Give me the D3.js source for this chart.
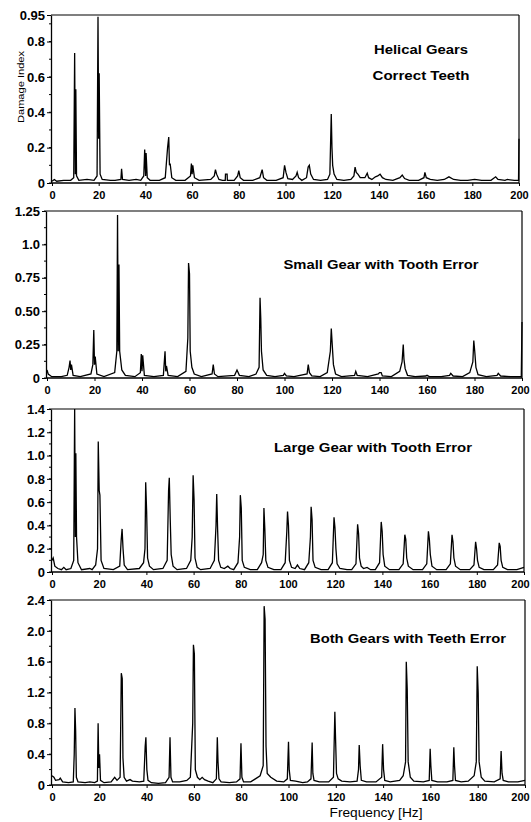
<!DOCTYPE html>
<html><head><meta charset="utf-8">
<script src="https://cdn.jsdelivr.net/npm/d3@7"></script>
<style>
body{margin:0;background:#fff}
svg{display:block}
text{font-family:"Liberation Sans",Arial,sans-serif;font-weight:bold;fill:#000}
</style>
</head><body><svg id="c" width="531" height="822"></svg>
<script>
// ---------------- DATA ----------------
const xTicks = [0,20,40,60,80,100,120,140,160,180,200];

const yTicks1 = [0,0.2,0.4,0.6,0.8,0.95];
const yLabels1 = ["0","0.2","0.4","0.6","0.8","0.95"];
const yTicks2 = [0,0.25,0.5,0.75,1.0,1.25];
const yLabels2 = ["0","0.25","0.50","0.75","1.0","1.25"];
const yTicks3 = [0,0.2,0.4,0.6,0.8,1.0,1.2,1.4];
const yLabels3 = ["0","0.2","0.4","0.6","0.8","1.0","1.2","1.4"];
const yTicks4 = [0,0.4,0.8,1.2,1.6,2.0,2.4];
const yLabels4 = ["0","0.4","0.8","1.2","1.6","2.0","2.4"];

const titles = [
  ["Helical Gears","Correct Teeth"],
  ["Small Gear with Tooth Error"],
  ["Large Gear with Tooth Error"],
  ["Both Gears with Teeth Error"]
];
const yAxisTitle = "Damage Index";
const xAxisTitle = "Frequency [Hz]";

// Helical gears, correct teeth: [frequency Hz, damage index]
const trace1 = [[0,0.01],[1,0.02],[2,0.01],[5,0.015],[8,0.015],[9.3,0.03],[9.7,0.735],[10,0.05],[10.2,0.53],[10.5,0.04],[11.5,0.015],
[15,0.02],[18,0.015],[19.3,0.04],[19.7,0.94],[20,0.25],[20.2,0.62],[20.6,0.05],[21.5,0.02],[25,0.015],[27,0.015],[29.5,0.02],[29.8,0.08],[30.2,0.02],
[33,0.015],[36,0.02],[38,0.015],[39.3,0.04],[39.7,0.19],[40.1,0.04],[40.3,0.17],[40.8,0.03],[42,0.015],[46,0.015],[48.5,0.03],[49.5,0.2],[50,0.26],[50.3,0.1],[50.6,0.11],[51.3,0.03],
[53,0.015],[57,0.015],[59.3,0.04],[59.7,0.11],[60,0.05],[60.3,0.1],[61,0.03],[63,0.015],[68,0.02],[69.5,0.04],[70,0.075],[70.5,0.05],[71.5,0.02],[73,0.015],
[74.2,0.015],[74.3,0.05],[75,0.05],[75.1,0.015],[78,0.015],[79.5,0.04],[80,0.07],[80.6,0.03],[82,0.015],[86,0.015],[89,0.03],[90,0.075],[90.6,0.03],[92,0.015],
[96,0.015],[99,0.03],[99.6,0.1],[100.2,0.06],[101,0.025],[103,0.02],[104.5,0.04],[105,0.06],[105.6,0.03],[107,0.015],[109,0.03],[109.7,0.09],[110.2,0.1],[110.8,0.05],[112,0.02],
[115,0.015],[118,0.02],[119,0.05],[119.6,0.39],[119.9,0.2],[120.2,0.1],[120.8,0.05],[122,0.02],[125,0.015],[128,0.02],[129.3,0.04],[129.8,0.09],[130.3,0.06],[131,0.05],[132,0.03],
[134,0.03],[135,0.055],[135.6,0.03],[137,0.02],[138.5,0.035],[139.5,0.04],[140.5,0.05],[141.5,0.03],[143,0.02],[146,0.015],[149,0.03],[150,0.045],[151,0.025],[153,0.015],
[157,0.015],[159.3,0.03],[159.7,0.06],[160.3,0.03],[162,0.02],[165,0.015],[168,0.02],[170,0.035],[172,0.02],[175,0.015],[178,0.015],[181,0.02],[184,0.015],[188,0.015],
[190,0.035],[191,0.02],[194,0.015],[195,0.02],[198,0.015],[199.8,0.015],[200,0.25]];

// Small gear with tooth error
const trace2 = [[0,0.06],[0.5,0.03],[2,0.01],[6,0.01],[8.5,0.02],[9.3,0.08],[9.7,0.13],[10,0.06],[10.3,0.1],[11,0.02],[14,0.01],
[18.5,0.03],[19.3,0.1],[19.7,0.36],[20,0.1],[20.3,0.16],[21,0.03],[24,0.01],[28.5,0.04],[29.4,0.2],[29.7,1.22],[30,0.2],[30.3,0.85],[30.6,0.2],[31.5,0.06],[33,0.02],
[37,0.01],[39.3,0.04],[39.7,0.18],[40,0.05],[40.3,0.17],[41,0.02],[45,0.01],[49,0.02],[49.7,0.2],[50,0.05],[50.3,0.09],[51,0.02],[55,0.01],
[58.5,0.05],[59.3,0.3],[59.6,0.86],[60,0.78],[60.3,0.2],[61,0.08],[62,0.03],[65,0.01],[69.5,0.03],[70,0.1],[70.5,0.03],[72,0.01],[79,0.02],[80,0.06],[81,0.02],[85,0.01],
[88,0.03],[89.3,0.08],[89.7,0.6],[90,0.45],[90.3,0.2],[91,0.06],[92.5,0.02],[96,0.01],[99.5,0.02],[100,0.035],[100.8,0.015],[104,0.01],[109.5,0.03],[110,0.1],[110.5,0.04],[111.5,0.015],
[115,0.01],[118,0.04],[119.3,0.2],[119.7,0.37],[120.1,0.25],[120.6,0.1],[121.5,0.03],[124,0.01],[129.5,0.02],[130,0.05],[130.6,0.02],[135,0.01],[139.5,0.03],[140,0.04],[140.7,0.04],[141.2,0.015],
[145,0.01],[148.5,0.05],[149.5,0.12],[150,0.25],[150.3,0.14],[150.8,0.07],[151.8,0.02],[155,0.01],[159.5,0.015],[160,0.02],[161,0.01],[166,0.01],[169.5,0.02],[170,0.035],[171,0.015],
[175,0.01],[178,0.04],[179.3,0.12],[179.7,0.28],[180.1,0.2],[180.6,0.08],[181.5,0.025],[185,0.01],[189.5,0.02],[190,0.035],[191,0.015],[195,0.01],[199.7,0.01],[200,0.42]];

// Large gear with tooth error
const trace3 = [[0,0.1],[0.5,0.12],[1.2,0.05],[2.5,0.03],[4,0.02],[5,0.04],[6,0.02],[8,0.03],[9.2,0.1],[9.6,1.4],[9.9,0.3],[10.1,1.02],[10.4,0.3],[11,0.08],[12.5,0.02],
[16,0.03],[17,0.02],[18.5,0.06],[19.3,0.2],[19.6,1.12],[20,0.7],[20.3,0.66],[20.8,0.1],[22,0.03],[26,0.02],[28.7,0.05],[29.3,0.27],[29.7,0.37],[30.1,0.2],[30.6,0.06],[32,0.02],
[37,0.03],[38.8,0.08],[39.4,0.2],[39.7,0.77],[40.1,0.52],[40.5,0.12],[41.3,0.05],[43,0.02],[47,0.03],[48.8,0.1],[49.4,0.7],[49.7,0.81],[50.1,0.45],[50.5,0.15],[51.3,0.05],[53,0.02],
[57,0.03],[58.8,0.1],[59.4,0.3],[59.8,0.83],[60.2,0.62],[60.6,0.12],[61.5,0.04],[63,0.02],[67,0.03],[68.8,0.1],[69.5,0.4],[69.8,0.67],[70.2,0.35],[70.6,0.1],[71.5,0.04],[73,0.03],
[74.5,0.05],[75.5,0.03],[77,0.02],[78.8,0.08],[79.5,0.3],[79.8,0.66],[80.2,0.55],[80.6,0.1],[81.5,0.04],[84,0.02],[87,0.02],[88.8,0.08],[89.5,0.15],[89.8,0.55],[90.2,0.36],[90.6,0.1],[91.5,0.04],[94,0.02],
[97,0.02],[98.8,0.08],[99.5,0.35],[99.8,0.52],[100.2,0.4],[100.6,0.1],[101.5,0.04],[103,0.03],[104,0.06],[105,0.03],[107,0.02],[108.8,0.08],[109.5,0.3],[109.8,0.56],[110.2,0.45],[110.6,0.1],[111.5,0.04],[114,0.02],
[117,0.02],[118.8,0.08],[119.5,0.47],[119.9,0.38],[120.3,0.2],[120.8,0.07],[122,0.03],[125,0.02],[127,0.02],[128.8,0.07],[129.5,0.41],[129.9,0.33],[130.3,0.12],[131,0.05],[132,0.03],[133.5,0.04],[135,0.02],
[137,0.02],[138.8,0.08],[139.5,0.43],[139.9,0.35],[140.3,0.15],[141,0.05],[143,0.02],[147,0.02],[148.8,0.07],[149.5,0.32],[149.9,0.28],[150.3,0.12],[151,0.05],[153,0.02],
[157,0.02],[158.8,0.07],[159.5,0.35],[159.9,0.28],[160.3,0.15],[161,0.05],[163,0.02],[167,0.02],[168.8,0.07],[169.5,0.32],[169.9,0.26],[170.3,0.12],[171,0.05],[173,0.02],
[177,0.02],[178.8,0.06],[179.5,0.26],[179.9,0.2],[180.3,0.1],[181,0.04],[183,0.02],[187,0.02],[188.8,0.06],[189.5,0.25],[189.9,0.22],[190.3,0.1],[191,0.04],[193,0.02],[197,0.02],[200,0.04]];

// Both gears with teeth error
const trace4 = [[0,0.12],[0.8,0.1],[1.5,0.06],[3,0.07],[3.5,0.09],[4.5,0.04],[7,0.03],[9,0.04],[9.4,0.4],[9.7,1.0],[10,0.7],[10.3,0.1],[11,0.04],[14,0.03],[16,0.04],[18,0.03],
[19.2,0.05],[19.5,0.8],[19.8,0.22],[20.1,0.4],[20.5,0.06],[22,0.03],[25,0.04],[26.5,0.1],[27.5,0.06],[28.8,0.1],[29.3,1.45],[29.7,1.38],[30,0.35],[30.5,0.1],[31.5,0.05],[33,0.07],[34,0.05],
[37,0.04],[38.8,0.05],[39.4,0.5],[39.7,0.62],[40.1,0.2],[40.6,0.06],[42,0.03],[45,0.02],[48,0.03],[49.5,0.1],[49.9,0.62],[50.3,0.1],[51,0.04],[54,0.04],[57,0.06],
[58.5,0.1],[59.5,0.8],[59.8,1.82],[60.2,1.7],[60.6,0.2],[61.5,0.1],[62.5,0.07],[63.5,0.1],[64.5,0.07],[66,0.05],[68,0.03],[69.5,0.08],[69.9,0.62],[70.2,0.3],[70.6,0.08],[71.5,0.04],
[75,0.03],[78,0.04],[79.5,0.08],[79.9,0.54],[80.3,0.1],[81,0.04],[84,0.04],[86,0.08],[88,0.12],[89.3,0.25],[89.7,2.32],[90.1,2.15],[90.5,0.5],[91,0.15],[92.5,0.1],[95,0.05],
[98,0.04],[99.5,0.08],[100,0.56],[100.3,0.2],[100.8,0.06],[103,0.05],[104.5,0.04],[106,0.03],[108,0.04],[109.5,0.08],[110,0.55],[110.3,0.15],[110.8,0.06],[113,0.04],
[117,0.04],[119,0.1],[119.6,0.95],[119.9,0.6],[120.3,0.15],[121,0.08],[122.5,0.05],[126,0.04],[129,0.05],[129.6,0.2],[129.9,0.52],[130.3,0.25],[130.8,0.06],[133,0.04],
[137,0.04],[139.4,0.1],[139.8,0.53],[140.2,0.2],[140.7,0.06],[143,0.04],[147,0.06],[148.5,0.12],[149.5,0.3],[149.8,1.6],[150.2,1.25],[150.6,0.3],[151.5,0.1],[153,0.05],
[157,0.04],[159.5,0.06],[159.9,0.47],[160.2,0.25],[160.6,0.06],[163,0.04],[167,0.04],[169.5,0.06],[169.9,0.49],[170.2,0.25],[170.6,0.06],[173,0.04],
[176,0.05],[178.5,0.12],[179.4,0.3],[179.8,1.54],[180.2,1.2],[180.6,0.3],[181.5,0.1],[183,0.05],[187,0.04],[189.5,0.08],[189.9,0.44],[190.3,0.15],[190.8,0.06],[193,0.04],[197,0.04],[200,0.06]];

// ---------------- LAYOUT ----------------
const panels = [
  {trace:trace1, max:0.95, yt:yTicks1, yl:yLabels1, minor:0.1, l:51, r:519, t:15,  b:183,
   title:titles[0], tx:421, ty:[54,80], tw:[94,97]},
  {trace:trace2, max:1.25, yt:yTicks2, yl:yLabels2, minor:0.125, l:46, r:522, t:211, b:378,
   title:titles[1], tx:381, ty:[269], tw:[195]},
  {trace:trace3, max:1.4, yt:yTicks3, yl:yLabels3, minor:0.1, l:51, r:524, t:409, b:572,
   title:titles[2], tx:373, ty:[452], tw:[198]},
  {trace:trace4, max:2.4, yt:yTicks4, yl:yLabels4, minor:0.2, l:51, r:525, t:600, b:785,
   title:titles[3], tx:408, ty:[643], tw:[196]}
];

const svg = d3.select("#c");

panels.forEach((p, i) => {
  const x = d3.scaleLinear().domain([0,200]).range([p.l+1, p.r]);
  const y = d3.scaleLinear().domain([0,p.max]).range([p.b, p.t]);
  const g = svg.append("g");

  // frame (top and right)
  g.append("line").attr("x1",p.l).attr("x2",p.r).attr("y1",p.t).attr("y2",p.t)
    .attr("stroke","#000").attr("stroke-width",1.2);
  g.append("line").attr("x1",p.r).attr("x2",p.r).attr("y1",p.t).attr("y2",p.b)
    .attr("stroke","#000").attr("stroke-width",1.2);

  // minor y ticks
  g.selectAll(".mn").data(d3.range(0, p.max + 1e-9, p.minor)).join("line")
    .attr("x1",p.l-2).attr("x2",p.l).attr("y1",d=>y(d)).attr("y2",d=>y(d))
    .attr("stroke","#000").attr("stroke-width",1);

  // y axis
  const ya = g.append("g").attr("transform",`translate(${p.l},0)`)
    .call(d3.axisLeft(y).tickValues(p.yt).tickFormat((d,k)=>p.yl[k]).tickSize(4).tickPadding(2).tickSizeOuter(0));
  ya.selectAll("text").style("font-size","13px").style("font-weight","bold")
    .style("font-family","'Liberation Sans',Arial,sans-serif");
  ya.select(".domain").attr("stroke-width",1.3);

  // x axis
  const xa = g.append("g").attr("transform",`translate(0,${p.b})`)
    .call(d3.axisBottom(x).tickValues(xTicks).tickSize(3).tickPadding(5).tickSizeOuter(0));
  xa.selectAll("text").style("font-size","11px").style("font-weight","bold")
    .style("font-family","'Liberation Sans',Arial,sans-serif")
    .attr("dx", d => (d === 200 && p.r > 520) ? (520 - p.r) : 0);
  xa.select(".domain").attr("stroke-width",1.3).attr("d",`M${p.l},0H${p.r}`);

  // trace
  const line = d3.line().x(d=>x(d[0])).y(d=>y(d[1]));
  g.append("path").datum(p.trace).attr("d",line)
    .attr("fill","none").attr("stroke","#000").attr("stroke-width",1.3).attr("stroke-linejoin","miter");

  // titles
  p.title.forEach((t,k)=>{
    g.append("text").attr("x",p.tx).attr("y",p.ty[k]).attr("text-anchor","middle")
      .attr("textLength",p.tw[k]).attr("lengthAdjust","spacingAndGlyphs")
      .style("font-size","12px").text(t);
  });
});

// axis titles
svg.append("text").attr("transform","translate(24,87) rotate(-90)").attr("text-anchor","middle")
  .attr("textLength",72).attr("lengthAdjust","spacingAndGlyphs")
  .style("font-size","8.5px").style("font-weight","normal").text(yAxisTitle);
svg.append("text").attr("x",376).attr("y",817).attr("text-anchor","middle")
  .attr("textLength",93).attr("lengthAdjust","spacingAndGlyphs")
  .style("font-size","12px").style("font-weight","normal").text(xAxisTitle);
</script>
</body></html>
